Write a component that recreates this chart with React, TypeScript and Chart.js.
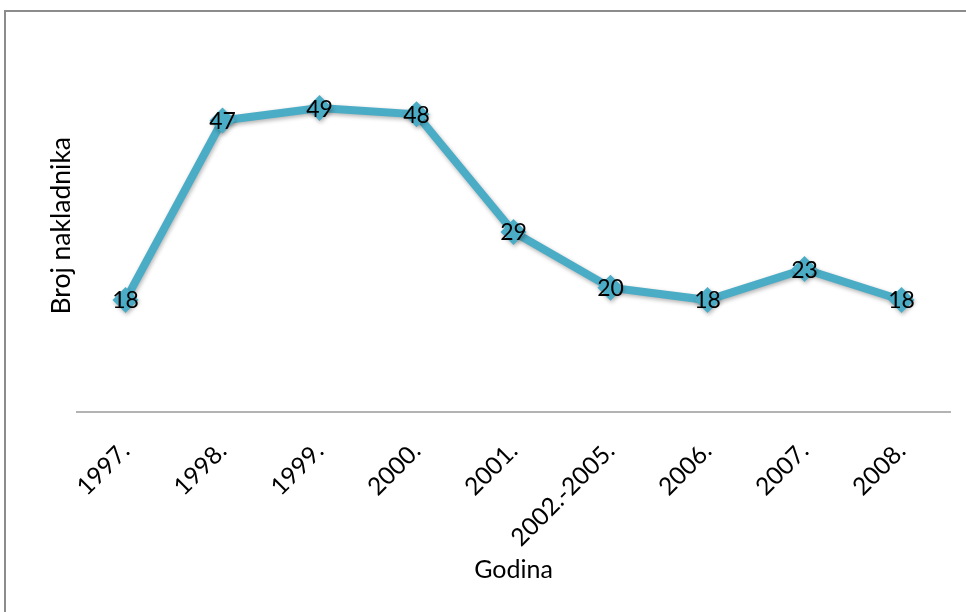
import React, { useEffect, useRef } from "react";
import { Chart, registerables } from "chart.js";

Chart.register(...registerables);

const categories = ["1997.", "1998.", "1999.", "2000.", "2001.", "2002.-2005.", "2006.", "2007.", "2008."];
const publishers = [18, 47, 49, 48, 29, 20, 18, 23, 18];
const xTitle = "Godina";
const yTitle = "Broj nakladnika";

const LINE = "#4BACC6";
const FONT = "Lato, 'Noto Sans', sans-serif";
const TITLE_SIZE = 25;
const TITLE_LH = TITLE_SIZE * 1.2;

const frame = {
  id: "frame",
  beforeDraw(chart: any) {
    const ctx = chart.ctx;
    ctx.save();
    ctx.fillStyle = "#ffffff";
    ctx.fillRect(0, 0, chart.width, chart.height);
    ctx.strokeStyle = "#8c8c8c";
    ctx.lineWidth = 2;
    ctx.strokeRect(5, 11, chart.width + 20, chart.height + 20);
    ctx.restore();
  },
};

const shadow = {
  id: "shadow",
  beforeDatasetsDraw(chart: any) {
    const ctx = chart.ctx;
    ctx.save();
    ctx.shadowColor = "rgba(0,0,0,0.3)";
    ctx.shadowBlur = 4;
    ctx.shadowOffsetX = 1;
    ctx.shadowOffsetY = 2;
  },
  afterDatasetsDraw(chart: any) {
    chart.ctx.restore();
  },
};

const labels = {
  id: "pointLabels",
  afterDatasetsDraw(chart: any) {
    const ctx = chart.ctx;
    const meta = chart.getDatasetMeta(0);
    const data = chart.data.datasets[0].data;
    ctx.save();
    ctx.fillStyle = "#000000";
    ctx.font = `23px ${FONT}`;
    ctx.textAlign = "center";
    ctx.textBaseline = "middle";
    meta.data.forEach((pt: any, i: number) => {
      ctx.fillText(String(data[i]), pt.x, pt.y + 1);
    });
    ctx.restore();
  },
};

export default function App() {
  const ref = useRef<HTMLCanvasElement>(null);
  useEffect(() => {
    if (!ref.current) return;
    const chart = new Chart(ref.current, {
      type: "line",
      data: {
        labels: categories,
        datasets: [
          {
            data: publishers,
            borderColor: LINE,
            backgroundColor: LINE,
            borderWidth: 8,
            pointStyle: "rectRot",
            pointRadius: 13,
            pointBorderWidth: 0,
            pointBackgroundColor: LINE,
            tension: 0,
          },
        ],
      },
      options: {
        animation: false,
        responsive: false,
        events: [],
        layout: { padding: { top: 40, right: 16, left: 0, bottom: 0 } },
        plugins: { legend: { display: false }, tooltip: { enabled: false } },
        scales: {
          x: {
            offset: true,
            grid: { display: false },
            border: { display: true, color: "#b3b3b3", width: 2 },
            ticks: {
              color: "#000000",
              font: { family: FONT, size: 24.5 },
              minRotation: 45,
              maxRotation: 45,
              padding: 17,
            },
            title: {
              display: true,
              text: xTitle,
              color: "#000000",
              font: { family: FONT, size: TITLE_SIZE },
              padding: { top: 0, bottom: 612 - 570 - TITLE_LH / 2 },
            },
            afterFit(scale: any) {
              scale.height = 200.5;
            },
          },
          y: {
            min: 0,
            max: 60,
            grid: { display: false },
            border: { display: false },
            ticks: { display: false },
            title: {
              display: true,
              text: yTitle,
              color: "#000000",
              font: { family: FONT, size: 26.5 },
              padding: { top: 61 - 26.5 * 0.6, bottom: 0 },
            },
            afterFit(scale: any) {
              scale.width = 77;
            },
          },
        },
      },
      plugins: [frame, shadow, labels],
    });
    return () => chart.destroy();
  }, []);
  return (
    <div style={{ position: "fixed", left: 0, top: 0, width: 966, height: 612 }}>
      <canvas ref={ref} width={966} height={612} />
    </div>
  );
}
